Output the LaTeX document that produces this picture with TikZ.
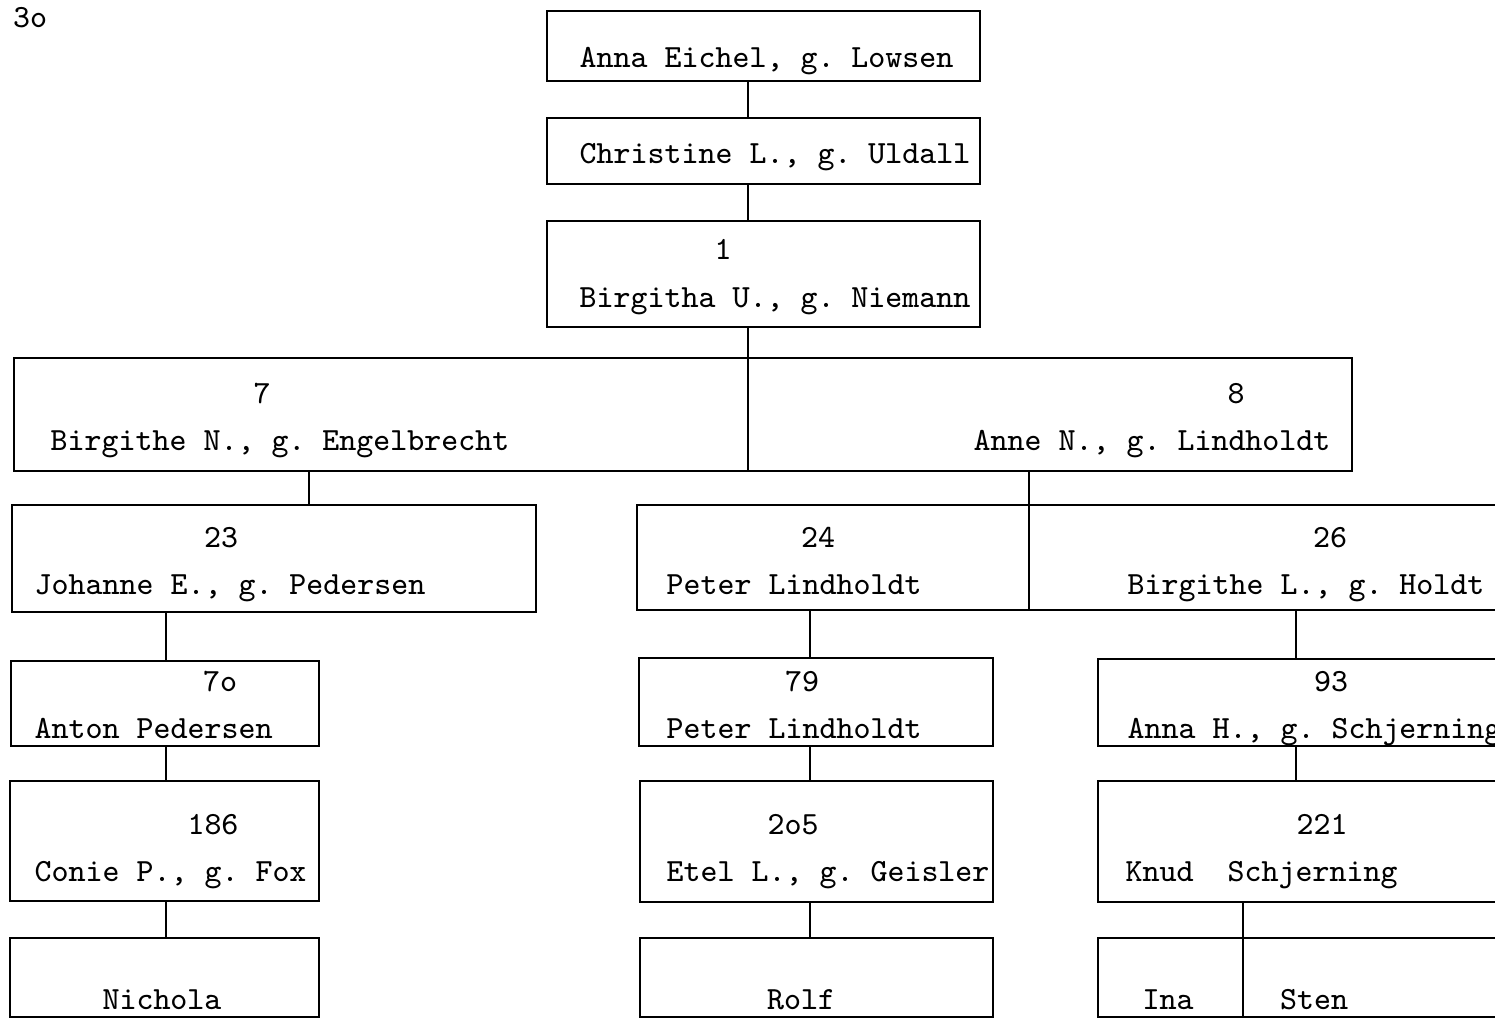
\documentclass[tikz,border=0pt]{standalone}
\usepackage{tikz}
\usetikzlibrary{positioning,fit}
\frenchspacing

\begin{document}
\begin{tikzpicture}[
  x=0.01cm,y=-0.01cm,
  every node/.style={font=\ttfamily\fontsize{9.2}{11}\selectfont},
  boks/.style={draw,line width=0.8pt,inner sep=0pt,outer sep=0pt},
  forbind/.style={line width=0.8pt},
  navn/.style={anchor=base west,inner sep=0pt},
  nummer/.style={anchor=base,inner sep=0pt}
]
  \path[use as bounding box,fill=white] (0,0) rectangle (1495,1019);
  \clip (0,0) rectangle (1495,1019);

  \node[inner sep=0pt] (side) at (30,18) {3o};

  % Kasserne
  \node[boks,fit={(547,11) (980,81)}] (anna) {};
  \node[boks,fit={(547,118) (980,184)}] (chris) {};
  \node[boks,fit={(547,221) (980,327)}] (birg) {};
  \node[boks,fit={(14,358) (748,471)}] (engel) {};
  \node[boks,fit={(748,358) (1352,471)}] (lindh) {};
  \node[boks,fit={(12,505) (536,612)}] (johanne) {};
  \node[boks,fit={(637,505) (1029,610)}] (peter) {};
  \node[boks,fit={(1029,505) (1520,610)}] (holdt) {};
  \node[boks,fit={(11,661) (319,746)}] (anton) {};
  \node[boks,fit={(639,658) (993,746)}] (peterto) {};
  \node[boks,fit={(1098,659) (1520,746)}] (annah) {};
  \node[boks,fit={(10,781) (319,901)}] (conie) {};
  \node[boks,fit={(640,781) (993,902)}] (etel) {};
  \node[boks,fit={(1098,781) (1520,902)}] (knud) {};
  \node[boks,fit={(10,938) (319,1017)}] (nichola) {};
  \node[boks,fit={(640,938) (993,1017)}] (rolf) {};
  \node[boks,fit={(1098,938) (1243,1017)}] (ina) {};
  \node[boks,fit={(1243,938) (1520,1017)}] (sten) {};

  % Linjernes x-placering
  \coordinate (stamme) at (748,0);
  \coordinate (kolA) at (309,0);
  \coordinate (kolB) at (1029,0);
  \coordinate (kolC) at (166,0);
  \coordinate (kolD) at (810,0);
  \coordinate (kolE) at (1296,0);
  \coordinate (kolF) at (1243,0);

  \draw[forbind] (anna.south -| stamme) -- (chris.north -| stamme);
  \draw[forbind] (chris.south -| stamme) -- (birg.north -| stamme);
  \draw[forbind] (birg.south -| stamme) -- (engel.north east);
  \draw[forbind] (engel.south -| kolA) -- (johanne.north -| kolA);
  \draw[forbind] (lindh.south -| kolB) -- (peter.north east);
  \draw[forbind] (johanne.south -| kolC) -- (anton.north -| kolC);
  \draw[forbind] (anton.south -| kolC) -- (conie.north -| kolC);
  \draw[forbind] (conie.south -| kolC) -- (nichola.north -| kolC);
  \draw[forbind] (peter.south -| kolD) -- (peterto.north -| kolD);
  \draw[forbind] (peterto.south -| kolD) -- (etel.north -| kolD);
  \draw[forbind] (etel.south -| kolD) -- (rolf.north -| kolD);
  \draw[forbind] (holdt.south -| kolE) -- (annah.north -| kolE);
  \draw[forbind] (annah.south -| kolE) -- (knud.north -| kolE);
  \draw[forbind] (knud.south -| kolF) -- (ina.north east);

  % Tekster
  \node[navn] (t-anna) at (579,68) {Anna Eichel, g. Lowsen};
  \node[navn] (t-chris) at (579,164) {Christine L., g. Uldall};
  \node[nummer] (n-birg) at (723,260) {1};
  \node[navn] (t-birg) at (579,308) {Birgitha U., g. Niemann};
  \node[nummer] (n-engel) at (262,404) {7};
  \node[navn] (t-engel) at (50,451) {Birgithe N., g. Engelbrecht};
  \node[nummer] (n-lindh) at (1236,404) {8};
  \node[navn] (t-lindh) at (973,451) {Anne N., g. Lindholdt};
  \node[nummer] (n-johanne) at (221,547) {23};
  \node[navn] (t-johanne) at (34,594) {Johanne E., g. Pedersen};
  \node[nummer] (n-peter) at (818,547) {24};
  \node[navn] (t-peter) at (666,594) {Peter Lindholdt};
  \node[nummer] (n-holdt) at (1330,547) {26};
  \node[navn] (t-holdt) at (1127,594) {Birgithe L., g. Holdt};
  \node[nummer] (n-anton) at (220,691) {7o};
  \node[navn] (t-anton) at (34,738) {Anton Pedersen};
  \node[nummer] (n-peterto) at (802,691) {79};
  \node[navn] (t-peterto) at (666,738) {Peter Lindholdt};
  \node[nummer] (n-annah) at (1331,691) {93};
  \node[navn] (t-annah) at (1127,738) {Anna H., g. Schjerning};
  \node[nummer] (n-conie) at (213,834) {186};
  \node[navn] (t-conie) at (34,881) {Conie P., g. Fox};
  \node[nummer] (n-etel) at (793,834) {2o5};
  \node[navn] (t-etel) at (666,881) {Etel L., g. Geisler};
  \node[nummer] (n-knud) at (1322,834) {221};
  \node[navn] (t-knud) at (1125,881) {Knud\ \ Schjerning};
  \node[nummer] (t-nichola) at (162,1009) {Nichola};
  \node[nummer] (t-rolf) at (801,1009) {Rolf};
  \node[nummer] (t-ina) at (1168,1009) {Ina};
  \node[nummer] (t-sten) at (1314,1009) {Sten};
\end{tikzpicture}
\end{document}
